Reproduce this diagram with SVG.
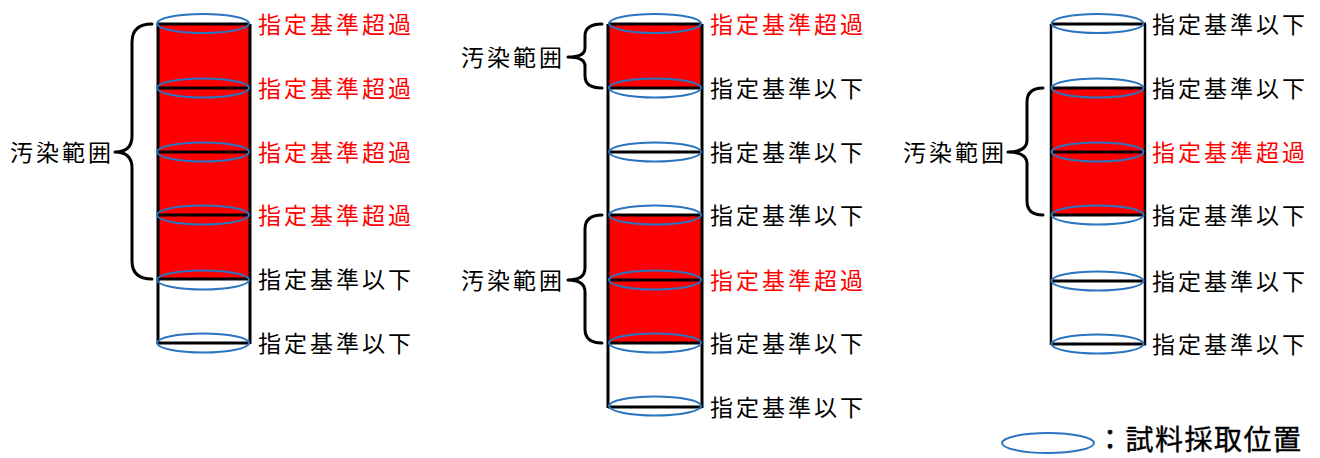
<svg xmlns="http://www.w3.org/2000/svg" width="1320" height="458" viewBox="0 0 1320 458">
<style>
.bg{fill:#ffffff}
.fill{fill:#ff0000;stroke:none}
.hl{stroke:#000;stroke-width:3;fill:none}
.vl{stroke:#000;stroke-width:3;fill:none}
.smp{fill:none;stroke:#2a74c0;stroke-width:2}
.brace{fill:none;stroke:#000;stroke-width:3;stroke-linejoin:round;stroke-linecap:round}
text{font-family:"Noto Sans CJK JP","Noto Sans CJK SC",sans-serif;font-size:23px;letter-spacing:3px;fill:#000}
.red{fill:#ff0000}
.legend{font-size:28px;letter-spacing:1.5px;stroke:#000;stroke-width:0.4}
</style>
<rect class="bg" x="0" y="0" width="1320" height="458"/>

<g id="column1">
  <rect class="fill" x="158" y="24" width="92" height="255"/>
  <line class="hl" x1="158" y1="24" x2="250" y2="24"/>
  <line class="hl" x1="158" y1="88" x2="250" y2="88"/>
  <line class="hl" x1="158" y1="152" x2="250" y2="152"/>
  <line class="hl" x1="158" y1="215" x2="250" y2="215"/>
  <line class="hl" x1="158" y1="279" x2="250" y2="279"/>
  <line class="hl" x1="158" y1="343" x2="250" y2="343"/>
  <line class="vl" x1="158" y1="24" x2="158" y2="344"/>
  <line class="vl" x1="250" y1="24" x2="250" y2="344"/>
  <ellipse class="smp" cx="203" cy="23.5" rx="46" ry="9.5"/>
  <ellipse class="smp" cx="203" cy="88" rx="46" ry="9.5"/>
  <ellipse class="smp" cx="203" cy="152" rx="46" ry="9.5"/>
  <ellipse class="smp" cx="203" cy="215" rx="46" ry="9.5"/>
  <ellipse class="smp" cx="203" cy="280" rx="46" ry="9.5"/>
  <ellipse class="smp" cx="203" cy="343" rx="46" ry="9.5"/>
  <text class="red" x="258" y="33">指定基準超過</text>
  <text class="red" x="258" y="97">指定基準超過</text>
  <text class="red" x="258" y="161">指定基準超過</text>
  <text class="red" x="258" y="224">指定基準超過</text>
  <text x="258" y="288">指定基準以下</text>
  <text x="258" y="352">指定基準以下</text>
</g>

<g id="column2">
  <rect class="fill" x="608" y="24" width="94" height="64"/>
  <rect class="fill" x="608" y="215" width="94" height="128"/>
  <line class="hl" x1="608" y1="24" x2="702" y2="24"/>
  <line class="hl" x1="608" y1="88" x2="702" y2="88"/>
  <line class="hl" x1="608" y1="152" x2="702" y2="152"/>
  <line class="hl" x1="608" y1="215" x2="702" y2="215"/>
  <line class="hl" x1="608" y1="280" x2="702" y2="280"/>
  <line class="hl" x1="608" y1="343" x2="702" y2="343"/>
  <line class="hl" x1="608" y1="407" x2="702" y2="407"/>
  <line class="vl" x1="608" y1="24" x2="608" y2="408"/>
  <line class="vl" x1="702" y1="24" x2="702" y2="408"/>
  <ellipse class="smp" cx="655" cy="23.5" rx="46" ry="9.5"/>
  <ellipse class="smp" cx="655" cy="88" rx="46" ry="9.5"/>
  <ellipse class="smp" cx="655" cy="152" rx="46" ry="9.5"/>
  <ellipse class="smp" cx="655" cy="215" rx="46" ry="9.5"/>
  <ellipse class="smp" cx="655" cy="280" rx="46" ry="9.5"/>
  <ellipse class="smp" cx="655" cy="343" rx="46" ry="9.5"/>
  <ellipse class="smp" cx="655" cy="406" rx="46" ry="9.5"/>
  <text class="red" x="710" y="33">指定基準超過</text>
  <text x="710" y="97">指定基準以下</text>
  <text x="710" y="161">指定基準以下</text>
  <text x="710" y="224">指定基準以下</text>
  <text class="red" x="710" y="289">指定基準超過</text>
  <text x="710" y="352">指定基準以下</text>
  <text x="710" y="416">指定基準以下</text>
</g>

<g id="column3">
  <rect class="fill" x="1051" y="88" width="94" height="127"/>
  <line class="hl" x1="1051" y1="24" x2="1146" y2="24"/>
  <line class="hl" x1="1051" y1="88" x2="1146" y2="88"/>
  <line class="hl" x1="1051" y1="152" x2="1146" y2="152"/>
  <line class="hl" x1="1051" y1="215" x2="1146" y2="215"/>
  <line class="hl" x1="1051" y1="281" x2="1146" y2="281"/>
  <line class="hl" x1="1051" y1="344" x2="1146" y2="344"/>
  <line class="vl" x1="1051" y1="24" x2="1051" y2="345" style="stroke-width:2.5"/>
  <line class="vl" x1="1145" y1="24" x2="1145" y2="345" style="stroke-width:2.5"/>
  <ellipse class="smp" cx="1097.5" cy="23.5" rx="46" ry="9.5"/>
  <ellipse class="smp" cx="1097.5" cy="88" rx="46" ry="9.5"/>
  <ellipse class="smp" cx="1097.5" cy="152" rx="46" ry="9.5"/>
  <ellipse class="smp" cx="1097.5" cy="215" rx="46" ry="9.5"/>
  <ellipse class="smp" cx="1097.5" cy="281" rx="46" ry="9.5"/>
  <ellipse class="smp" cx="1097.5" cy="344" rx="46" ry="9.5"/>
  <text x="1152" y="33">指定基準以下</text>
  <text x="1152" y="97">指定基準以下</text>
  <text class="red" x="1152" y="161">指定基準超過</text>
  <text x="1152" y="224">指定基準以下</text>
  <text x="1152" y="290">指定基準以下</text>
  <text x="1152" y="353">指定基準以下</text>
</g>

<g id="connectors">
  <g id="brace1">
    <path class="brace" d="M152,24 Q132,24 132,42 L132,136 Q132,152 115,152 Q132,152 132,168 L132,261 Q132,279 152,279"/>
    <text x="10" y="161">汚染範囲</text>
  </g>
  <g id="brace2">
    <path class="brace" d="M602,24 Q585,24 585,36 L585,48 Q585,57 568,57 Q585,57 585,66 L585,76 Q585,88 602,88"/>
    <text x="461" y="66">汚染範囲</text>
  </g>
  <g id="brace3">
    <path class="brace" d="M602,215 Q585,215 585,229 L585,268 Q585,280 568,280 Q585,280 585,292 L585,329 Q585,343 602,343"/>
    <text x="461" y="289">汚染範囲</text>
  </g>
  <g id="brace4">
    <path class="brace" d="M1043,88 Q1027,88 1027,102 L1027,140 Q1027,152 1008,152 Q1027,152 1027,164 L1027,201 Q1027,215 1043,215"/>
    <text x="903" y="161">汚染範囲</text>
  </g>
</g>

<g id="legend">
  <ellipse class="smp" cx="1048" cy="443" rx="46" ry="10"/>
  <text class="legend" x="1096" y="450">：試料採取位置</text>
</g>
</svg>
